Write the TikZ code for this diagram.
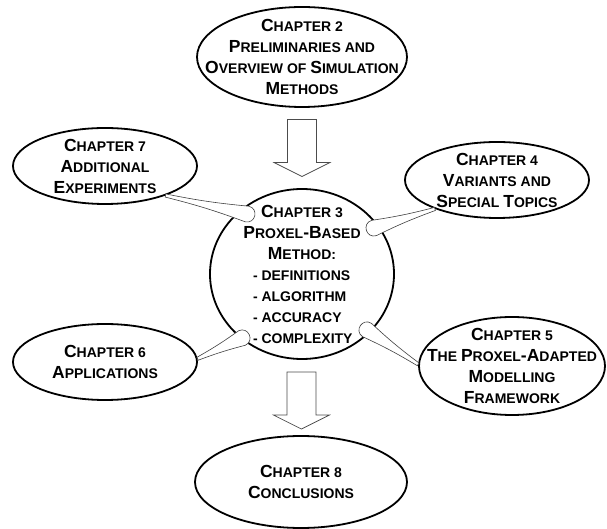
\documentclass[tikz,border=0pt]{standalone}
\usepackage{fontspec}
\setmainfont{Liberation Sans}
\usetikzlibrary{shapes.geometric,calc}

\newcommand{\sm}[1]{{\fontsize{14}{21}\selectfont #1}}
\newcommand{\topic}[1]{\makebox[98pt][l]{\sm{- #1}}}
% tail from a chapter ellipse to the centre
\newcommand{\tail}[2]{%
  \draw[tailline] ($(#1)!1.6pt!90:(#2)$) to[bend right=3] ($(#2)!8pt!-90:(#1)$)
    .. controls ($(#2)!13.3pt!-143.13:(#1)$) and ($(#2)!13.3pt!143.13:(#1)$) .. ($(#2)!8pt!90:(#1)$)
    to[bend right=3] ($(#1)!1.6pt!-90:(#2)$) -- cycle;}
% hollow down arrow around a coordinate
\newcommand{\hollowarrow}[1]{%
  \draw[hollow] ($(#1)+(-14.5,28.5)$) -- ++(29,0) -- ++(0,-43) -- ++(13.5,0)
    -- ($(#1)+(0,-28.5)$) -- ($(#1)+(-28,-14.5)$) -- ++(13.5,0) -- cycle;}

\begin{document}
\begin{tikzpicture}[x=1pt, y=1pt,
        chap/.style = {ellipse, draw, line width=1.8pt, inner sep=0pt},
        chaptext/.style = {align=center, font=\fontsize{17.5}{21}\selectfont\bfseries},
        tailline/.style = {draw=black!75, line width=0.6pt, fill=white},
        hollow/.style = {draw=black!70, line width=0.7pt, fill=white}]

    \useasboundingbox (-302,-255) rectangle (305,274);

    % Chapter 3 (centre)
    \node[chap, minimum width=184pt, minimum height=170pt] (c3) at (0,0) {};
    \node[chaptext] (t3) at (c3) {C\sm{HAPTER 3}\\P\sm{ROXEL}-B\sm{ASED}\\M\sm{ETHOD:}\\
        \topic{DEFINITIONS}\\\topic{ALGORITHM}\\\topic{ACCURACY}\\\topic{COMPLEXITY}};

    % Chapter 2
    \node[chap, minimum width=210pt, minimum height=100pt] (c2) at (0,217) {};
    \node[chaptext] (t2) at (c2) {C\sm{HAPTER 2}\\P\sm{RELIMINARIES AND}\\O\sm{VERVIEW OF }S\sm{IMULATION}\\M\sm{ETHODS}};

    % Chapter 7
    \node[chap, minimum width=184pt, minimum height=76pt] (c7) at (-197,108) {};
    \node[chaptext] (t7) at (c7) {C\sm{HAPTER 7}\\A\sm{DDITIONAL}\\E\sm{XPERIMENTS}};

    % Chapter 4
    \node[chap, minimum width=184pt, minimum height=76pt] (c4) at (195,94) {};
    \node[chaptext] (t4) at (c4) {C\sm{HAPTER 4}\\V\sm{ARIANTS AND}\\S\sm{PECIAL }T\sm{OPICS}};

    % Chapter 6
    \node[chap, minimum width=184pt, minimum height=76pt] (c6) at (-197,-88) {};
    \node[chaptext] (t6) at (c6) {C\sm{HAPTER 6}\\A\sm{PPLICATIONS}};

    % Chapter 5
    \node[chap, minimum width=186pt, minimum height=98pt] (c5) at (210,-92) {};
    \node[chaptext] (t5) at (c5) {C\sm{HAPTER 5}\\T\sm{HE }P\sm{ROXEL}-A\sm{DAPTED}\\M\sm{ODELLING}\\F\sm{RAMEWORK}};

    % Chapter 8
    \node[chap, minimum width=212pt, minimum height=92pt] (c8) at (-1,-208) {};
    \node[chaptext] (t8) at (c8) {C\sm{HAPTER 8}\\C\sm{ONCLUSIONS}};

    % Block arrows
    \coordinate (m23) at ($(c2.south)!0.5!(c3.north)$);
    \coordinate (m38) at ($(c3.south)!0.54!(c8.north)$);
    \hollowarrow{m23}
    \hollowarrow{m38}

    % Tail ends on the centre
    \coordinate (b7) at (-55,60);
    \coordinate (b4) at (72,46);
    \coordinate (b6) at (-60,-64);
    \coordinate (b5) at (65,-56);

    % Tails
    \tail{c7.-26}{b7}
    \tail{c4.205}{b4}
    \tail{c6.2}{b6}
    \tail{c5.179}{b5}

\end{tikzpicture}
\end{document}
